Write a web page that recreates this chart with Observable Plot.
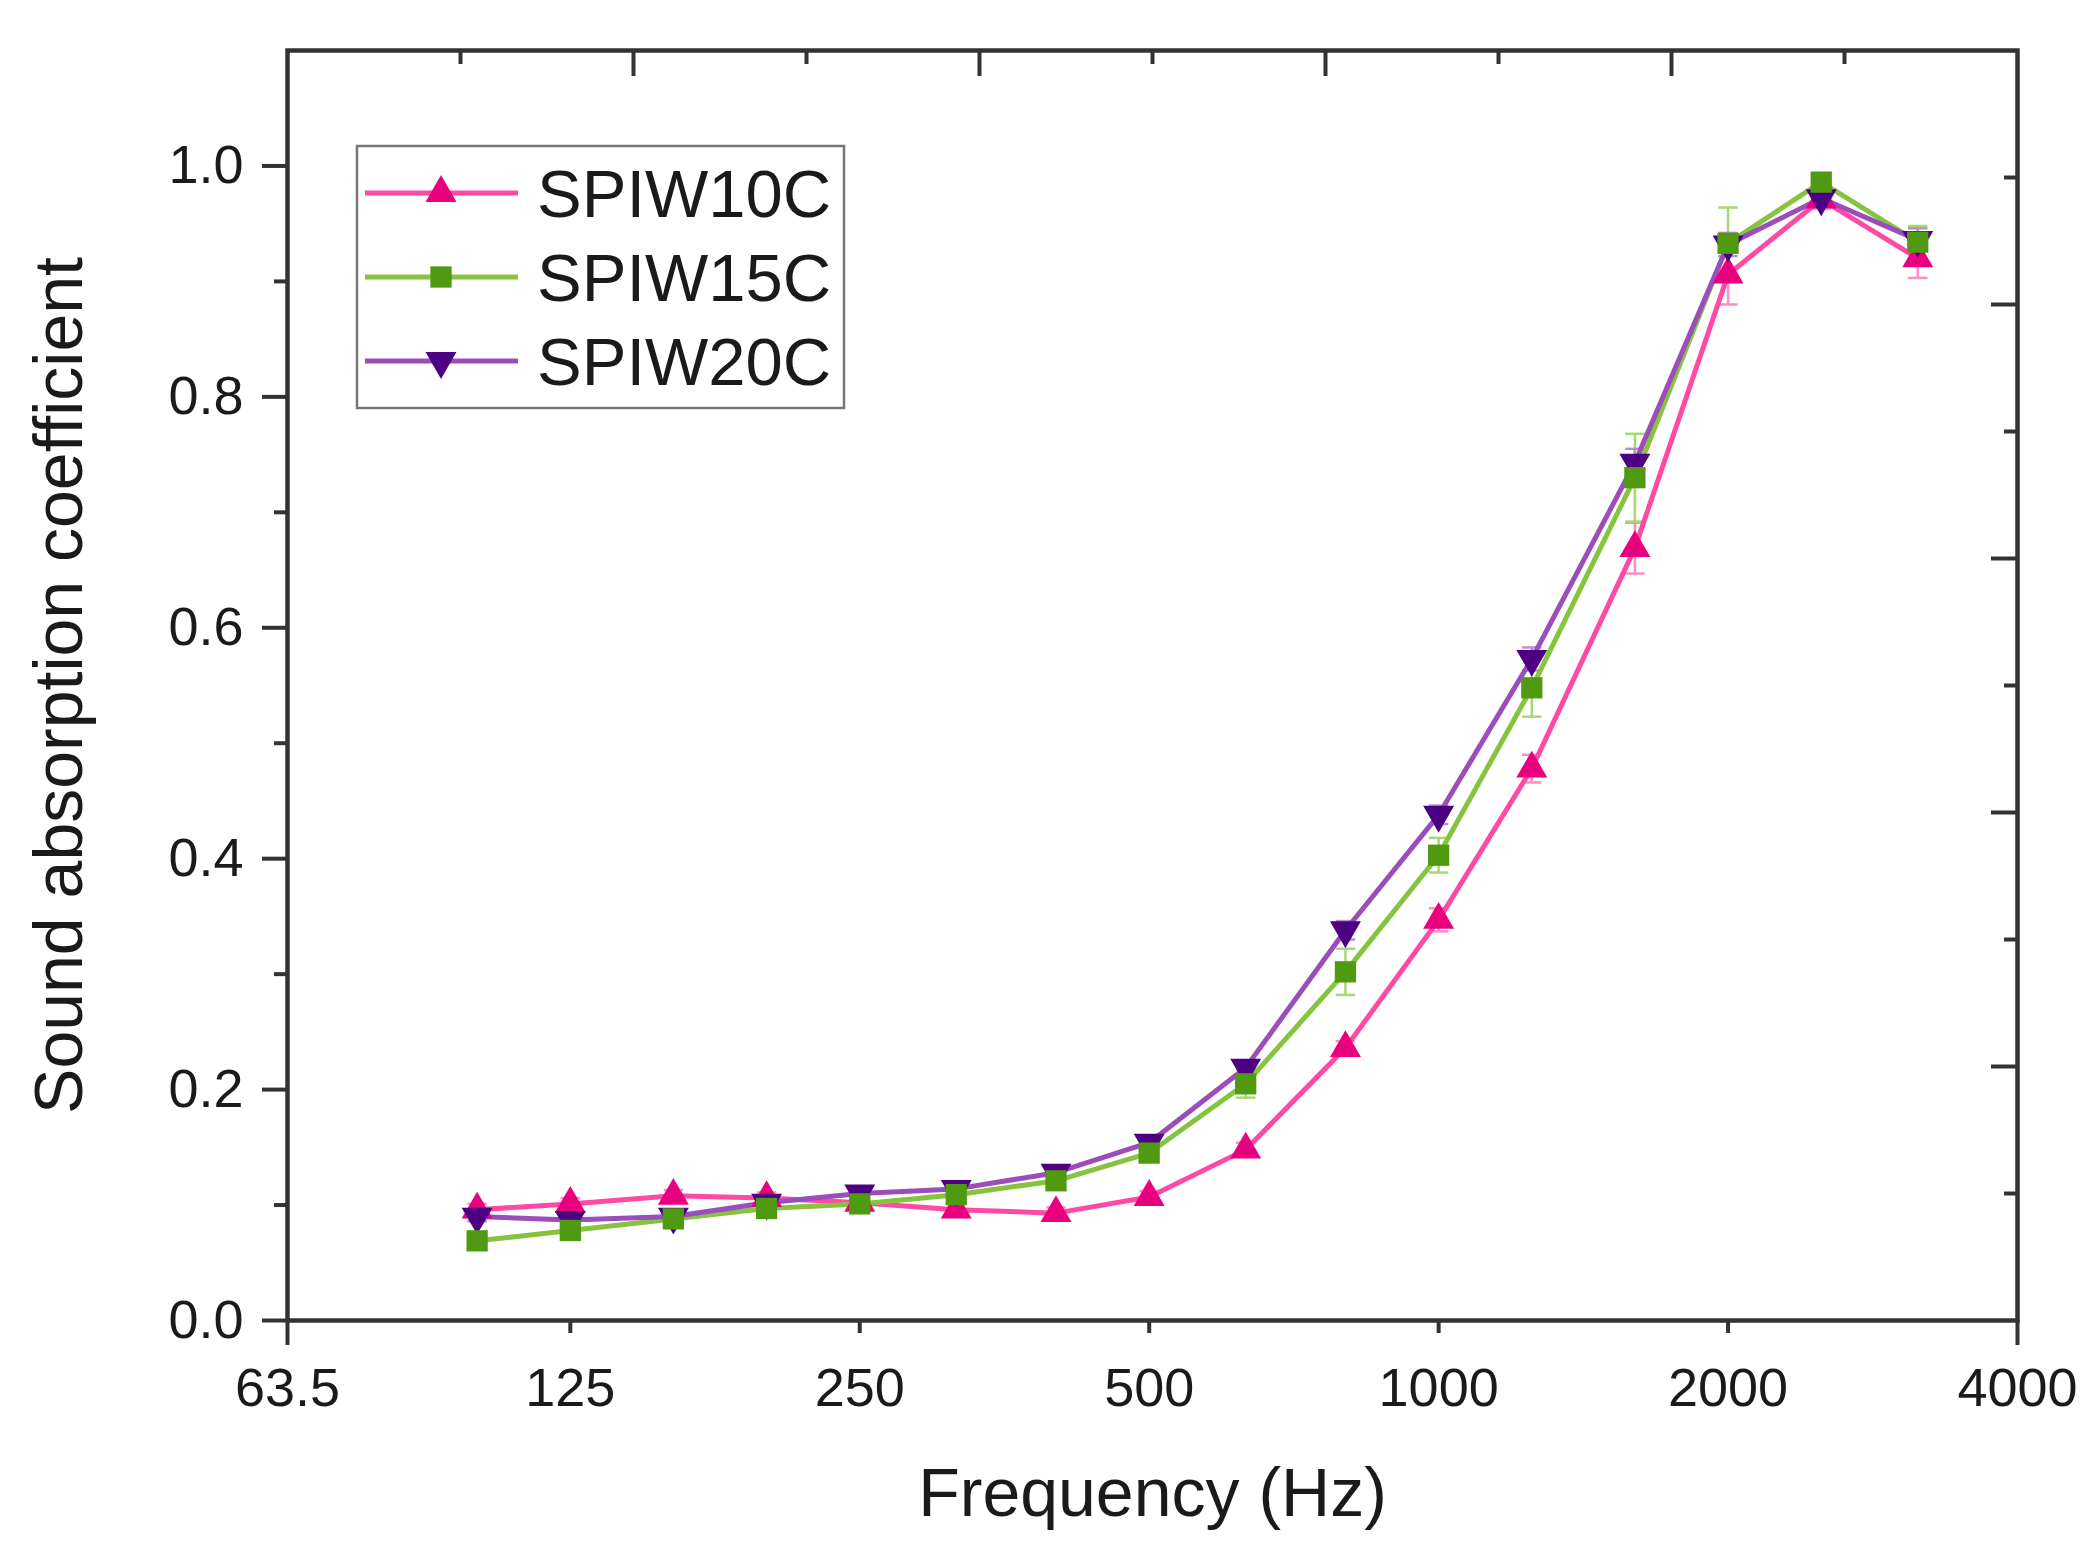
<!DOCTYPE html>
<html>
<head>
<meta charset="utf-8">
<script src="https://cdn.jsdelivr.net/npm/d3@7"></script>
<script src="https://cdn.jsdelivr.net/npm/@observablehq/plot@0.6"></script>
<style>
  html, body { margin: 0; padding: 0; background: #fff; }
  #wrap { position: relative; width: 2100px; height: 1548px; }
  #legend { position: absolute; left: 0; top: 0; }
</style>
</head>
<body>
<div id="wrap"></div>
<script>
// ---------- data ----------
const freqs = [100, 125, 160, 200, 250, 315, 400, 500, 630, 800, 1000, 1250, 1600, 2000, 2500, 3150];
const spiw10c = [0.096, 0.101, 0.108, 0.106, 0.102, 0.096, 0.093, 0.107, 0.148, 0.236, 0.347, 0.478, 0.669, 0.906, 0.971, 0.920];
const spiw15c = [0.069, 0.078, 0.088, 0.097, 0.101, 0.109, 0.121, 0.145, 0.205, 0.302, 0.403, 0.548, 0.730, 0.933, 0.986, 0.934];
const spiw20c = [0.090, 0.087, 0.090, 0.102, 0.110, 0.114, 0.128, 0.154, 0.219, 0.338, 0.438, 0.573, 0.743, 0.932, 0.972, 0.936];
const err10 = [0.005, 0.005, 0.005, 0.005, 0.005, 0.005, 0.005, 0.005, 0.006, 0.006, 0.010, 0.012, 0.022, 0.026, 0.008, 0.017];
const err15 = [0.005, 0.005, 0.005, 0.005, 0.005, 0.005, 0.005, 0.006, 0.012, 0.020, 0.015, 0.025, 0.038, 0.031, 0.006, 0.014];
const err20 = [0.004, 0.004, 0.004, 0.004, 0.004, 0.004, 0.004, 0.005, 0.006, 0.008, 0.008, 0.010, 0.012, 0.010, 0.006, 0.010];
const seriesNames = ["SPIW10C", "SPIW15C", "SPIW20C"];

const xTicks = [125, 250, 500, 1000, 2000];
const xEndTicks = [63.5, 4000];
const yTicks = [0, 0.2, 0.4, 0.6, 0.8, 1.0];
const yMinorTicks = [0.1, 0.3, 0.5, 0.7, 0.9];
const frameFractions = [0.1, 0.2, 0.3, 0.4, 0.5, 0.6, 0.7, 0.8, 0.9]; // top/right axis ticks (fraction of axis)

const xDomain = [63.5, 4000];
const yDomain = [0, 1.1];

// ---------- styling ----------
const styles = [
  {line: "#ff4aa5", marker: "#e8007f", bar: "#ff8cc6", symbol: "triangle", rotate: 0, r: 11.5},
  {line: "#86c440", marker: "#4f9a10", bar: "#a6d874", symbol: "square", rotate: 0, r: 12},
  {line: "#9b4db9", marker: "#4e0082", bar: "#b98fd0", symbol: "triangle", rotate: 180, r: 11.5}
];
const valueArrays = [spiw10c, spiw15c, spiw20c];
const errArrays = [err10, err15, err20];

const series = seriesNames.map((name, i) => ({
  name, ...styles[i],
  rows: freqs.map((f, j) => ({f, v: valueArrays[i][j], e: errArrays[i][j]}))
}));

const W = 2100, H = 1548;
const mL = 287, mR = 83, mT = 50, mB = 228;
const plotW = W - mL - mR, plotH = H - mT - mB;

const hline = {draw(ctx, size) { const w = Math.sqrt(size); ctx.moveTo(-w, 0); ctx.lineTo(w, 0); }};

const topTicks = frameFractions.map((t, i) => ({
  x: xDomain[0] * Math.pow(xDomain[1] / xDomain[0], t), major: (i % 2 === 1)
}));
const rightTicks = frameFractions.map((t, i) => ({
  y: yDomain[0] + (yDomain[1] - yDomain[0]) * t, major: (i % 2 === 1)
}));

const marks = [];
// error bars
for (const s of series) {
  marks.push(Plot.ruleX(s.rows, {x: "f", y1: d => d.v - d.e, y2: d => d.v + d.e, stroke: s.bar, strokeWidth: 2.5}));
  marks.push(Plot.dot(s.rows, {x: "f", y: d => d.v + d.e, symbol: hline, r: 5.5, stroke: s.bar, strokeWidth: 2.5, fill: "none"}));
  marks.push(Plot.dot(s.rows, {x: "f", y: d => d.v - d.e, symbol: hline, r: 5.5, stroke: s.bar, strokeWidth: 2.5, fill: "none"}));
}
// lines
for (const s of series) {
  marks.push(Plot.line(s.rows, {x: "f", y: "v", stroke: s.line, strokeWidth: 5}));
}
// markers
for (const s of [series[0], series[2], series[1]]) {
  marks.push(Plot.dot(s.rows, {x: "f", y: "v", symbol: s.symbol, rotate: s.rotate, r: s.r, fill: s.marker, stroke: "none"}));
}
// frame + axes
marks.push(
  Plot.frame({stroke: "#333", strokeWidth: 4.5}),
  Plot.axisY(yTicks, {anchor: "left", tickSize: 25, tickPadding: 19, tickFormat: d => d.toFixed(1), fontSize: 54, stroke: "#333", strokeWidth: 4, fill: "#1a1a1a", label: null}),
  Plot.axisY(yMinorTicks, {anchor: "left", tickSize: 13, tickFormat: () => "", stroke: "#333", strokeWidth: 4, label: null}),
  Plot.axisX(xTicks, {anchor: "bottom", tickSize: 13, tickPadding: 34, tickFormat: d => String(d), fontSize: 54, stroke: "#333", strokeWidth: 4, fill: "#1a1a1a", label: null}),
  Plot.axisX(xEndTicks, {anchor: "bottom", tickSize: 25, tickPadding: 22, tickFormat: d => String(d), fontSize: 54, stroke: "#333", strokeWidth: 4, fill: "#1a1a1a", label: null}),
  Plot.ruleX(topTicks, {x: "x", stroke: "#333", strokeWidth: 4, insetBottom: plotH - 14, filter: d => !d.major}),
  Plot.ruleX(topTicks, {x: "x", stroke: "#333", strokeWidth: 4, insetBottom: plotH - 26, filter: d => d.major}),
  Plot.ruleY(rightTicks, {y: "y", stroke: "#333", strokeWidth: 4, insetLeft: plotW - 13, filter: d => !d.major}),
  Plot.ruleY(rightTicks, {y: "y", stroke: "#333", strokeWidth: 4, insetLeft: plotW - 26, filter: d => d.major}),
  Plot.text(["Frequency (Hz)"], {frameAnchor: "bottom", dy: 174, fontSize: 68, fill: "#1a1a1a", textAnchor: "middle", lineAnchor: "middle"}),
  Plot.text(["Sound absorption coefficient"], {frameAnchor: "left", dx: -227, rotate: -90, fontSize: 68, fill: "#1a1a1a", textAnchor: "middle", lineAnchor: "middle"})
);

const chart = Plot.plot({
  width: W, height: H,
  marginLeft: mL, marginRight: mR, marginTop: mT, marginBottom: mB,
  x: {type: "log", base: 2, domain: xDomain, label: null},
  y: {domain: yDomain, label: null},
  style: {fontFamily: "'Liberation Sans', Arial, sans-serif", background: "#fff", color: "#1a1a1a", overflow: "visible"},
  marks
});
const wrap = document.getElementById("wrap");
wrap.appendChild(chart);

// ---------- legend (inside plot area, top-left) ----------
const lg = d3.select(wrap).append("svg").attr("id", "legend")
  .attr("width", W).attr("height", H)
  .style("font-family", "'Liberation Sans', Arial, sans-serif");
const boxX = 357, boxY = 146, boxW = 487, boxH = 262;
lg.append("rect").attr("x", boxX).attr("y", boxY).attr("width", boxW).attr("height", boxH)
  .attr("fill", "#fff").attr("stroke", "#777").attr("stroke-width", 2.5);
const rowY = [193, 277, 361];
series.forEach((s, i) => {
  const y = rowY[i];
  lg.append("line").attr("x1", 365).attr("x2", 518).attr("y1", y).attr("y2", y)
    .attr("stroke", s.line).attr("stroke-width", 5);
  const sym = s.symbol === "square" ? d3.symbolSquare : d3.symbolTriangle;
  lg.append("path").attr("d", d3.symbol(sym, Math.PI * s.r * s.r)())
    .attr("transform", `translate(441,${y}) rotate(${s.rotate})`).attr("fill", s.marker);
  lg.append("text").attr("x", 537).attr("y", y).attr("dy", "0.36em")
    .attr("font-size", 67).attr("fill", "#1a1a1a").text(s.name);
});
</script>
</body>
</html>
